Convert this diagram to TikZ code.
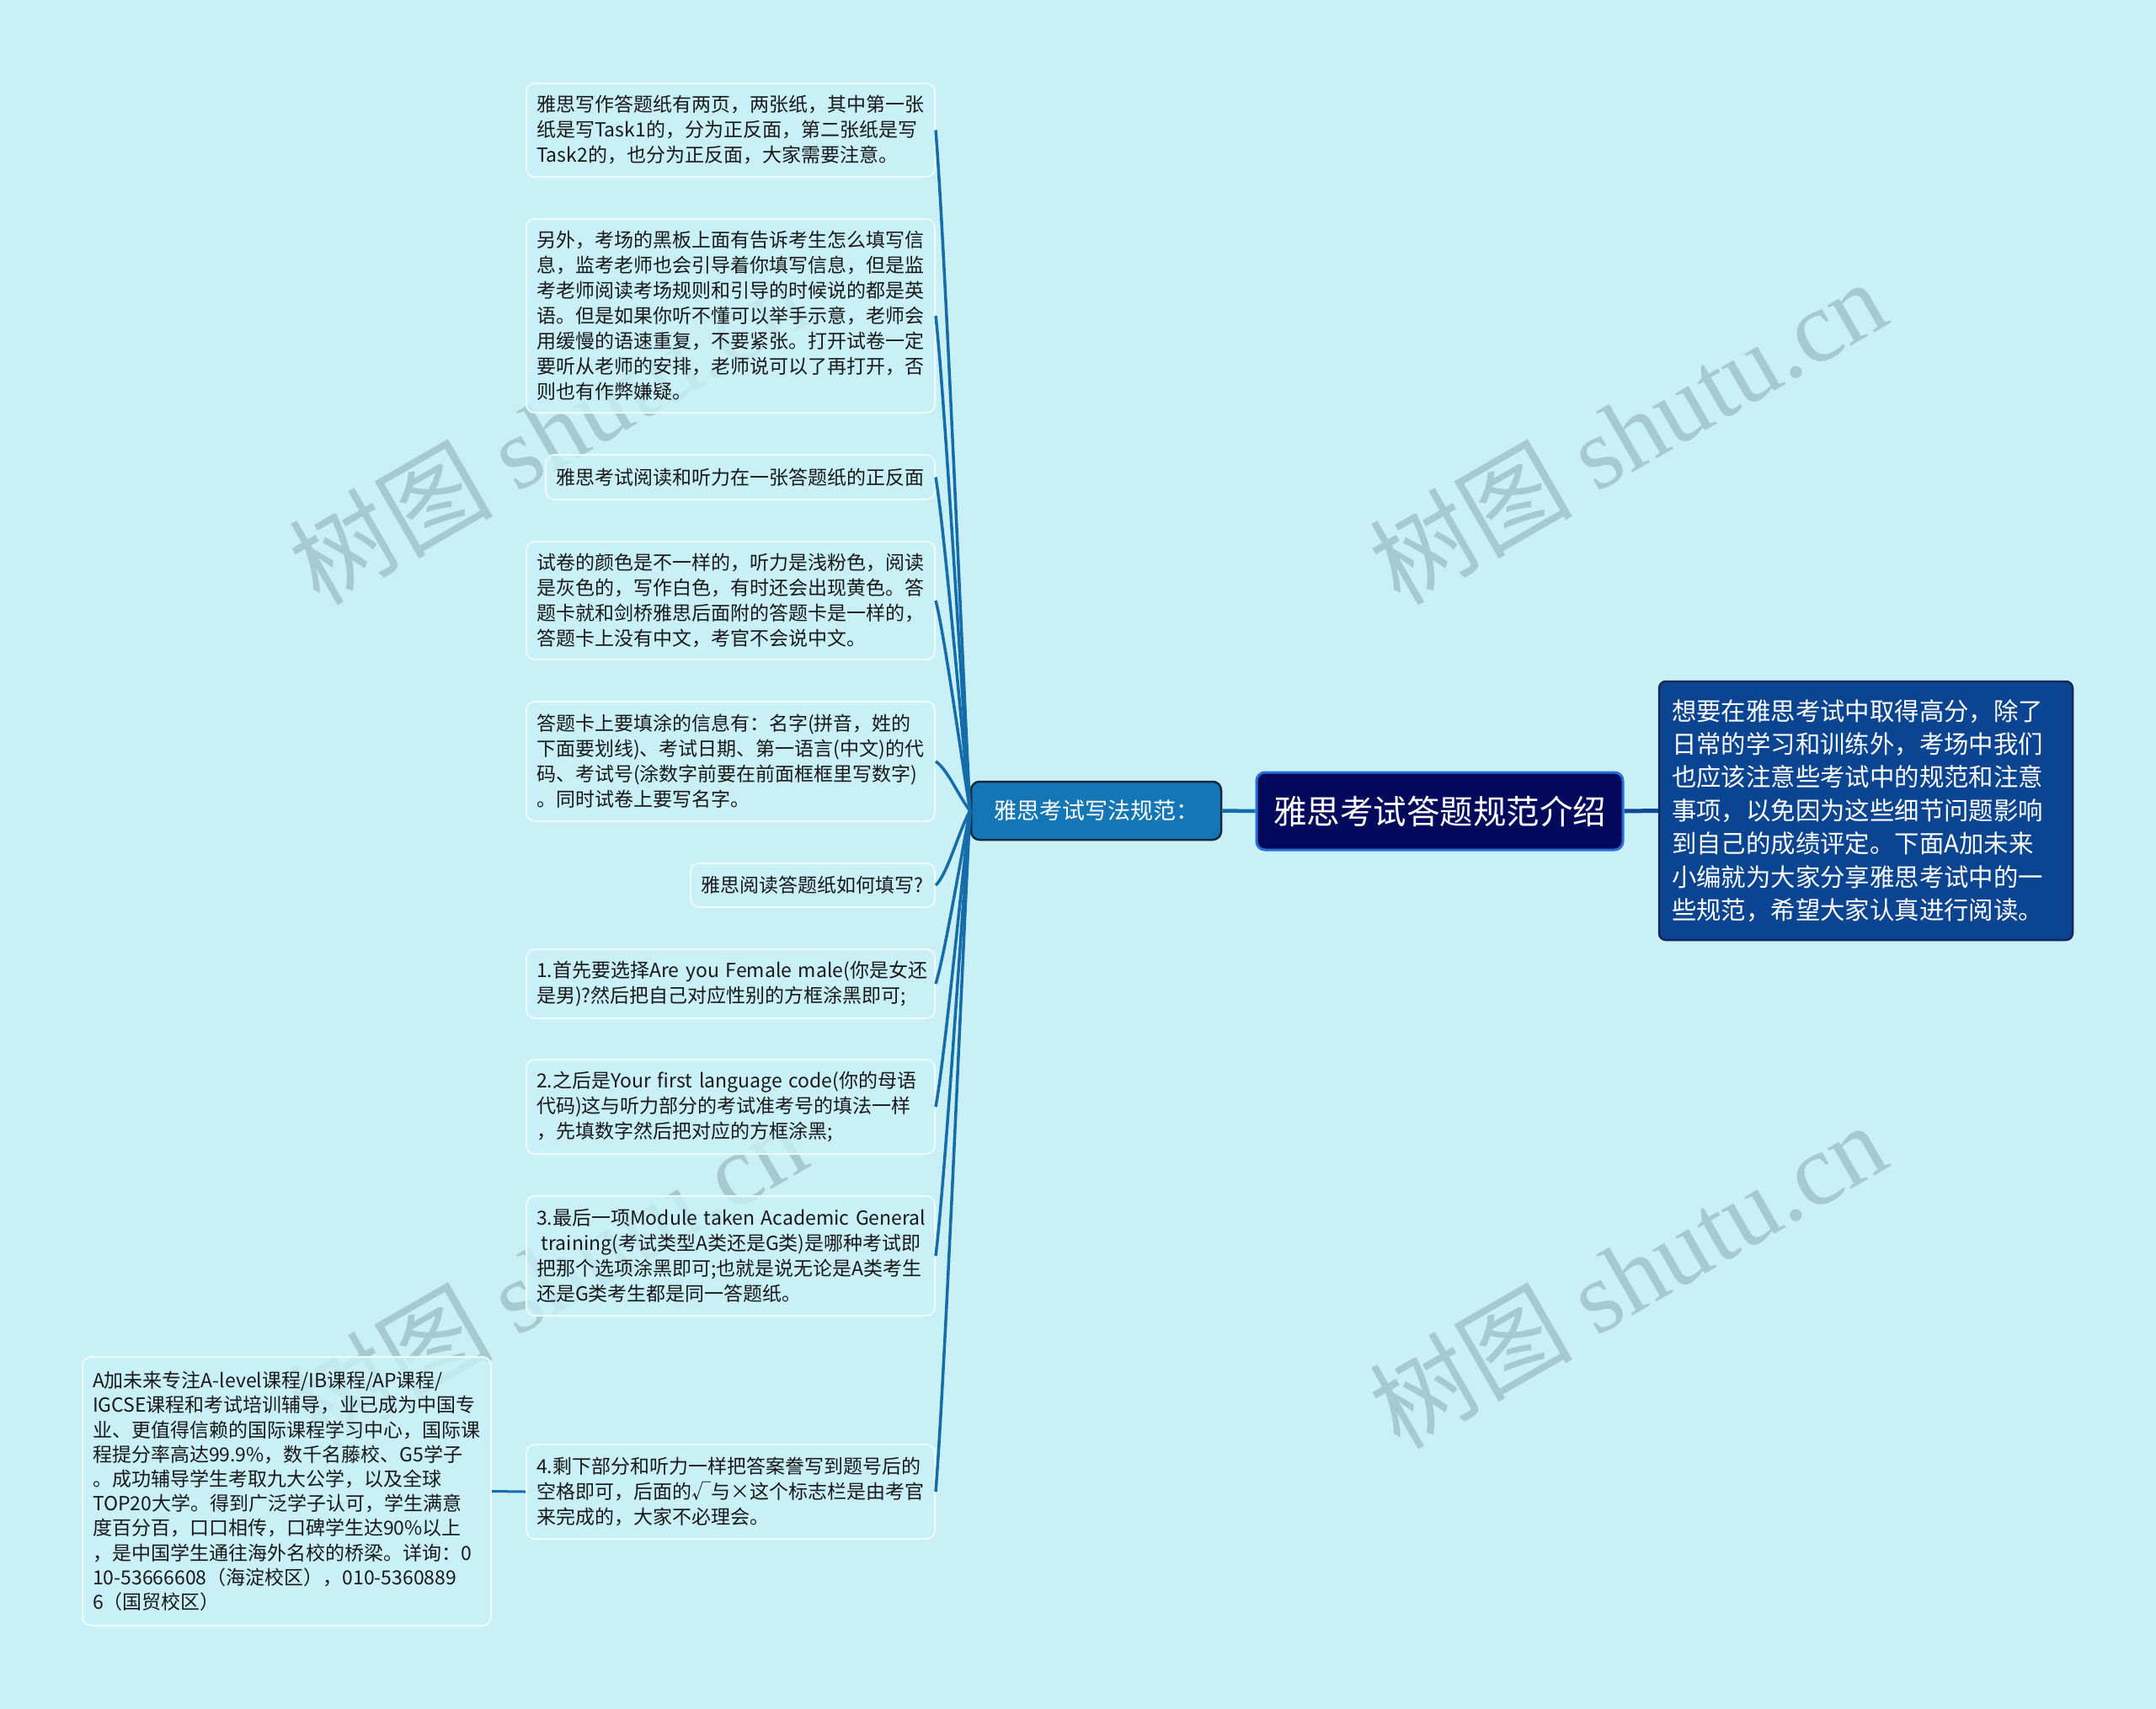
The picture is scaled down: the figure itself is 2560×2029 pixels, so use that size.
\documentclass[tikz,border=0pt]{standalone}
\usepackage{fontspec}
\newfontfamily\cjk{Noto Sans CJK SC}
\newfontfamily\wmserif{Liberation Serif}
\definecolor{bg}{RGB}{201,240,247}
\definecolor{boxborder}{RGB}{236,250,253}
\definecolor{txt}{RGB}{25,25,25}
\definecolor{linec}{RGB}{22,108,168}
\definecolor{subfill}{RGB}{21,118,181}
\definecolor{subdraw}{RGB}{16,40,66}
\definecolor{cenfill}{RGB}{2,8,92}
\definecolor{cendraw}{RGB}{40,110,215}
\definecolor{rfill}{RGB}{11,68,144}
\definecolor{rdraw}{RGB}{18,40,88}
\definecolor{rline}{RGB}{16,74,146}
\definecolor{wm}{RGB}{166,201,210}
\newcommand{\wmtext}{{\cjk\fontsize{121}{124}\selectfont 树图}\hspace{28pt}{\wmserif\fontsize{121}{124}\selectfont shutu.cn}}
\tikzset{
  leaf/.style={draw=boxborder, line width=2pt, rounded corners=10pt, fill=bg, fill opacity=0.8, text opacity=1,
    text=txt, font=\cjk\fontsize{23}{30}\selectfont, align=left, inner xsep=12pt, inner ysep=0pt, text width=461pt},
  subnode/.style={draw=subdraw, line width=2.5pt, rounded corners=10pt, fill=subfill, text=white,
    font=\cjk\fontsize{27}{32}\selectfont, minimum width=297pt, minimum height=69pt, inner sep=0pt},
  cennode/.style={draw=cendraw, line width=3pt, rounded corners=10pt, fill=cenfill, text=white,
    font=\cjk\fontsize{39.5}{44}\selectfont, minimum width=435pt, minimum height=92pt, inner sep=0pt},
  rnode/.style={draw=rdraw, line width=2.5pt, rounded corners=8pt, fill=rfill, text=white,
    font=\cjk\fontsize{29.4}{39.4}\selectfont, align=left, text width=461pt, inner xsep=15pt, inner ysep=0pt, minimum height=307pt},
  conn/.style={draw=linec, line width=3.5pt},
  wmark/.style={text=wm, rotate=30, inner sep=0pt}
}
\begin{document}
\begin{tikzpicture}[x=1pt,y=-1pt]
\fill[bg] (0,0) rectangle (2560,2029);
\useasboundingbox (0,0) rectangle (2560,2029);

% watermarks
\node[wmark] (w1) at (650,512) {\wmtext};
\node[wmark] (w2) at (1932,512) {\wmtext};
\node[wmark] (w3) at (650,1513) {\wmtext};
\node[wmark] (w4) at (1932,1513) {\wmtext};

% main nodes
\node[subnode] (sub) at (1301.5,962.5) {雅思考试写法规范：};
\node[cennode] (cen) at (1709.5,963) {雅思考试答题规范介绍};
\node[rnode] (rt) at (2215.5,962.5) {想要在雅思考试中取得高分，除了\\日常的学习和训练外，考场中我们\\也应该注意些考试中的规范和注意\\事项，以免因为这些细节问题影响\\到自己的成绩评定。下面A加未来\\小编就为大家分享雅思考试中的一\\些规范，希望大家认真进行阅读。};

% leaf boxes
\node[leaf, minimum height=111pt] (b1) at (867.5,154.5) {雅思写作答题纸有两页，两张纸，其中第一张\\纸是写Task1的，分为正反面，第二张纸是写\\Task2的，也分为正反面，大家需要注意。};
\node[leaf, minimum height=230pt] (b2) at (867.5,375) {另外，考场的黑板上面有告诉考生怎么填写信\\息，监考老师也会引导着你填写信息，但是监\\考老师阅读考场规则和引导的时候说的都是英\\语。但是如果你听不懂可以举手示意，老师会\\用缓慢的语速重复，不要紧张。打开试卷一定\\要听从老师的安排，老师说可以了再打开，否\\则也有作弊嫌疑。};
\node[leaf, text width=438pt, minimum height=53pt] (b3) at (879,566.5) {雅思考试阅读和听力在一张答题纸的正反面};
\node[leaf, minimum height=140pt] (b4) at (867.5,713) {试卷的颜色是不一样的，听力是浅粉色，阅读\\是灰色的，写作白色，有时还会出现黄色。答\\题卡就和剑桥雅思后面附的答题卡是一样的，\\答题卡上没有中文，考官不会说中文。};
\node[leaf, minimum height=142pt] (b5) at (867.5,904) {答题卡上要填涂的信息有：名字(拼音，姓的\\下面要划线)、考试日期、第一语言(中文)的代\\码、考试号(涂数字前要在前面框框里写数字)\\。同时试卷上要写名字。};
\node[leaf, text width=266pt, minimum height=52pt] (b6) at (965,1051) {雅思阅读答题纸如何填写?};
\node[leaf, minimum height=82pt] (b7) at (867.5,1168) {\mbox{1.首先要选择Are you Female male(你是女还}\\是男)?然后把自己对应性别的方框涂黑即可;};
\node[leaf, minimum height=112pt] (b8) at (867.5,1314) {\mbox{2.之后是Your first language code(你的母语}\\代码)这与听力部分的考试准考号的填法一样\\，先填数字然后把对应的方框涂黑;};
\node[leaf, minimum height=142pt] (b9) at (867.5,1491) {\mbox{3.最后一项Module taken Academic General}\\\mbox{\hspace*{0.25em}training(考试类型A类还是G类)是哪种考试即}\\把那个选项涂黑即可;也就是说无论是A类考生\\还是G类考生都是同一答题纸。};
\node[leaf, minimum height=112pt] (b10) at (867.5,1771) {4.剩下部分和听力一样把答案誊写到题号后的\\空格即可，后面的√与×这个标志栏是由考官\\来完成的，大家不必理会。};
\node[leaf, minimum height=319pt, font=\cjk\fontsize{23}{29.2}\selectfont] (lf) at (340.5,1770.5) {\mbox{A加未来专注A-level课程/IB课程/AP课程/}\\IGCSE课程和考试培训辅导，业已成为中国专\\业、更值得信赖的国际课程学习中心，国际课\\程提分率高达99.9\%，数千名藤校、G5学子\\。成功辅导学生考取九大公学，以及全球\\TOP20大学。得到广泛学子认可，学生满意\\度百分百，口口相传，口碑学生达90\%以上\\，是中国学生通往海外名校的桥梁。详询：0\\10-53666608（海淀校区），010-5360889\\6（国贸校区）};

% connectors
\draw[draw=rline, line width=5pt] (cen.east) -- (rt.west);
\draw[conn, line width=4.5pt] (sub.east) -- (cen.west);
\draw[conn] (sub.west) .. controls +(-12,-243) and +(10,121) .. (b1.east);
\draw[conn] (sub.west) .. controls +(-12,-176) and +(10,88) .. (b2.east);
\draw[conn] (sub.west) .. controls +(-12,-119) and +(10,59) .. (b3.east);
\draw[conn] (sub.west) .. controls +(-12,-75) and +(10,38) .. (b4.east);
\draw[conn] (sub.west) .. controls +(-14,-18) and +(14,9) .. (b5.east);
\draw[conn] (sub.west) .. controls +(-14,26) and +(14,-13) .. (b6.east);
\draw[conn] (sub.west) .. controls +(-12,62) and +(10,-31) .. (b7.east);
\draw[conn] (sub.west) .. controls +(-12,105) and +(10,-53) .. (b8.east);
\draw[conn] (sub.west) .. controls +(-12,158) and +(10,-79) .. (b9.east);
\draw[conn] (sub.west) .. controls +(-12,242) and +(10,-121) .. (b10.east);
\draw[conn, line width=3pt] (b10.west) -- (lf.east);
\end{tikzpicture}
\end{document}
